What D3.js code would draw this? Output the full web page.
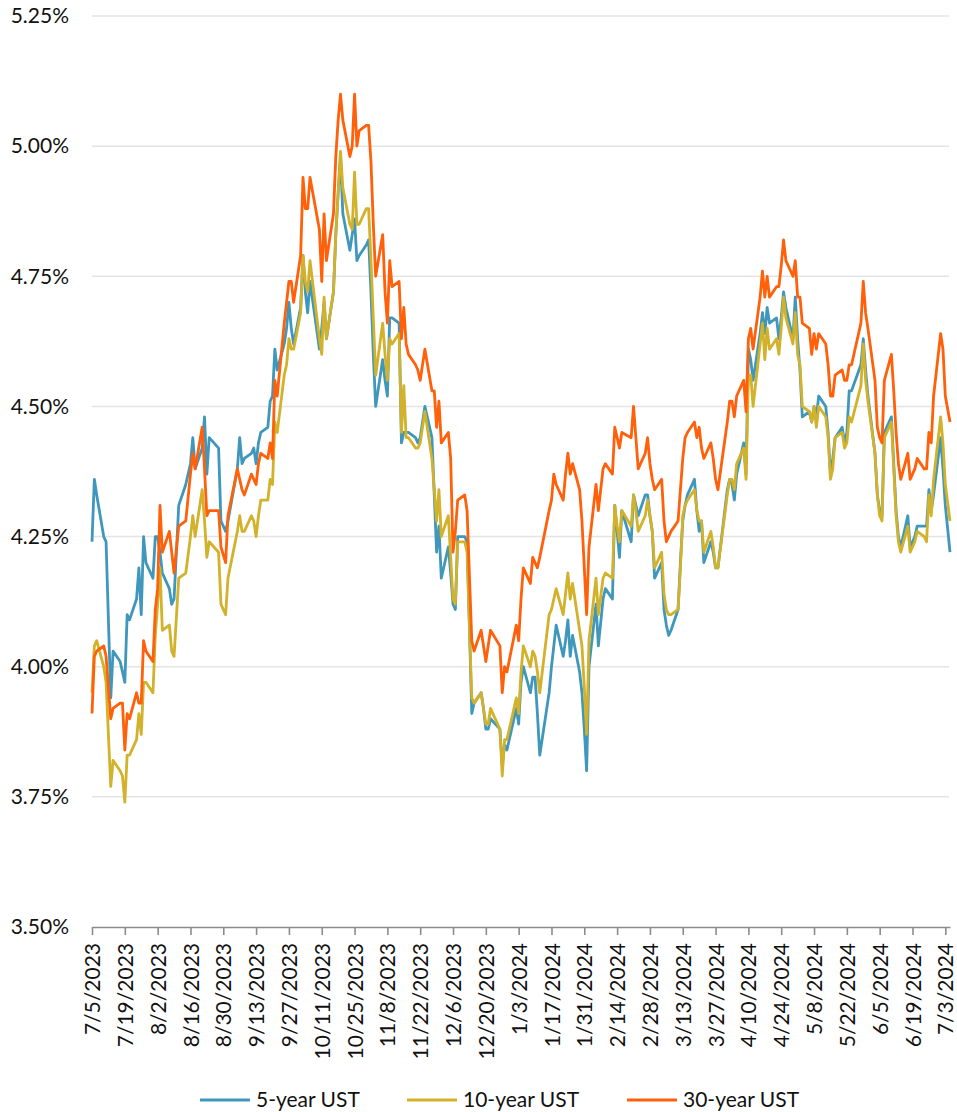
<!DOCTYPE html>
<html>
<head>
<meta charset="utf-8">
<script src="https://cdn.jsdelivr.net/npm/d3@7/dist/d3.min.js"></script>
<style>
  body { margin: 0; background: #fff; }
  svg { font-family: Lato, "Open Sans", sans-serif; }
</style>
</head>
<body>
<svg id="chart"></svg>
<script>
// trading days shown on the chart
var dates = [
  "7/5/2023","7/6/2023","7/7/2023","7/10/2023","7/11/2023","7/13/2023","7/14/2023","7/17/2023","7/18/2023","7/19/2023","7/20/2023","7/21/2023","7/24/2023","7/25/2023","7/26/2023","7/27/2023","7/28/2023","7/31/2023",
  "8/1/2023","8/2/2023","8/3/2023","8/4/2023","8/7/2023","8/8/2023","8/9/2023","8/11/2023","8/14/2023","8/16/2023","8/17/2023","8/18/2023","8/21/2023","8/22/2023","8/23/2023","8/24/2023","8/28/2023","8/29/2023","8/31/2023",
  "9/1/2023","9/5/2023","9/6/2023","9/7/2023","9/8/2023","9/11/2023","9/12/2023","9/13/2023","9/14/2023","9/15/2023","9/18/2023","9/19/2023","9/20/2023","9/21/2023","9/22/2023","9/25/2023","9/26/2023","9/27/2023","9/28/2023","9/29/2023",
  "10/2/2023","10/3/2023","10/4/2023","10/5/2023","10/6/2023","10/10/2023","10/11/2023","10/12/2023","10/13/2023","10/16/2023","10/17/2023","10/18/2023","10/19/2023","10/20/2023","10/23/2023","10/24/2023","10/25/2023","10/26/2023","10/27/2023","10/30/2023","10/31/2023",
  "11/1/2023","11/2/2023","11/3/2023","11/6/2023","11/7/2023","11/8/2023","11/9/2023","11/10/2023","11/13/2023","11/14/2023","11/15/2023","11/16/2023","11/17/2023","11/20/2023","11/21/2023","11/22/2023","11/24/2023","11/27/2023","11/28/2023","11/29/2023","11/30/2023",
  "12/1/2023","12/4/2023","12/5/2023","12/6/2023","12/7/2023","12/8/2023","12/11/2023","12/12/2023","12/14/2023","12/15/2023","12/18/2023","12/19/2023","12/20/2023","12/21/2023","12/22/2023","12/26/2023","12/27/2023","12/28/2023","12/29/2023",
  "1/2/2024","1/3/2024","1/4/2024","1/5/2024","1/8/2024","1/9/2024","1/10/2024","1/11/2024","1/12/2024","1/16/2024","1/17/2024","1/18/2024","1/19/2024","1/22/2024","1/23/2024","1/24/2024","1/25/2024","1/26/2024","1/29/2024","1/30/2024","1/31/2024",
  "2/1/2024","2/2/2024","2/5/2024","2/6/2024","2/8/2024","2/9/2024","2/12/2024","2/13/2024","2/14/2024","2/15/2024","2/16/2024","2/20/2024","2/21/2024","2/22/2024","2/23/2024","2/26/2024","2/27/2024","2/28/2024","2/29/2024",
  "3/1/2024","3/4/2024","3/5/2024","3/6/2024","3/7/2024","3/8/2024","3/11/2024","3/12/2024","3/13/2024","3/14/2024","3/15/2024","3/18/2024","3/19/2024","3/20/2024","3/21/2024","3/22/2024","3/25/2024","3/26/2024","3/27/2024","3/28/2024",
  "4/1/2024","4/2/2024","4/3/2024","4/4/2024","4/5/2024","4/8/2024","4/9/2024","4/10/2024","4/11/2024","4/12/2024","4/15/2024","4/16/2024","4/17/2024","4/18/2024","4/19/2024","4/22/2024","4/23/2024","4/24/2024","4/25/2024","4/26/2024","4/29/2024","4/30/2024",
  "5/1/2024","5/2/2024","5/3/2024","5/6/2024","5/7/2024","5/8/2024","5/9/2024","5/10/2024","5/13/2024","5/14/2024","5/15/2024","5/16/2024","5/17/2024","5/20/2024","5/21/2024","5/22/2024","5/23/2024","5/24/2024","5/28/2024","5/29/2024","5/30/2024","5/31/2024",
  "6/3/2024","6/4/2024","6/5/2024","6/6/2024","6/7/2024","6/10/2024","6/11/2024","6/12/2024","6/13/2024","6/14/2024","6/17/2024","6/18/2024","6/20/2024","6/21/2024","6/24/2024","6/25/2024","6/26/2024","6/27/2024","6/28/2024",
  "7/1/2024","7/2/2024","7/3/2024","7/5/2024"
];

// yields in percent
var ust5 = [
  4.24,4.36,4.33,4.25,4.24,3.94,4.03,4.01,3.99,3.97,4.10,4.09,4.13,4.19,4.10,4.25,4.20,4.17,
  4.25,4.25,4.22,4.18,4.15,4.12,4.13,4.31,4.35,4.39,4.44,4.38,4.42,4.48,4.37,4.44,4.42,4.28,4.26,
  4.28,4.38,4.44,4.39,4.40,4.41,4.42,4.39,4.43,4.45,4.46,4.51,4.52,4.61,4.57,4.62,4.65,4.70,4.65,4.62,
  4.69,4.79,4.72,4.68,4.74,4.61,4.65,4.70,4.63,4.72,4.83,4.91,4.98,4.87,4.80,4.83,4.86,4.78,4.79,4.81,4.82,
  4.72,4.60,4.50,4.59,4.55,4.52,4.67,4.67,4.66,4.43,4.45,4.45,4.45,4.44,4.43,4.44,4.50,4.44,4.33,4.22,4.27,
  4.17,4.23,4.18,4.12,4.11,4.25,4.25,4.24,3.91,3.93,3.95,3.92,3.88,3.88,3.90,3.88,3.81,3.85,3.84,
  3.92,3.89,3.97,4.00,3.95,3.98,3.98,3.91,3.83,3.95,4.00,4.04,4.08,4.02,4.05,4.09,4.02,4.06,3.99,3.95,3.88,
  3.80,4.00,4.12,4.04,4.13,4.15,4.13,4.31,4.26,4.21,4.30,4.24,4.33,4.31,4.29,4.33,4.33,4.29,4.26,
  4.17,4.20,4.11,4.08,4.06,4.07,4.11,4.20,4.28,4.31,4.33,4.36,4.30,4.26,4.28,4.20,4.24,4.22,4.19,4.19,
  4.34,4.36,4.35,4.32,4.37,4.43,4.37,4.61,4.59,4.55,4.64,4.68,4.64,4.69,4.66,4.67,4.63,4.67,4.72,4.69,4.63,4.71,
  4.63,4.57,4.48,4.49,4.47,4.50,4.48,4.52,4.50,4.45,4.37,4.40,4.44,4.46,4.43,4.45,4.53,4.53,4.58,4.63,4.57,4.52,
  4.41,4.33,4.30,4.29,4.45,4.48,4.39,4.30,4.25,4.23,4.29,4.23,4.25,4.27,4.27,4.27,4.34,4.30,4.33,
  4.44,4.38,4.31,4.22
];

var ust10 = [
  3.95,4.04,4.05,4.00,3.97,3.77,3.82,3.80,3.79,3.74,3.83,3.83,3.86,3.91,3.87,3.97,3.97,3.95,
  4.06,4.12,4.19,4.07,4.08,4.03,4.02,4.17,4.18,4.25,4.29,4.25,4.34,4.28,4.21,4.24,4.22,4.12,4.10,
  4.17,4.26,4.29,4.26,4.26,4.29,4.28,4.25,4.29,4.32,4.32,4.36,4.35,4.47,4.45,4.56,4.58,4.63,4.61,4.61,
  4.68,4.79,4.74,4.72,4.78,4.63,4.60,4.71,4.63,4.72,4.83,4.91,4.99,4.92,4.85,4.84,4.95,4.85,4.85,4.88,4.88,
  4.78,4.67,4.56,4.66,4.60,4.55,4.63,4.62,4.64,4.45,4.54,4.44,4.44,4.42,4.42,4.43,4.49,4.40,4.34,4.28,4.34,
  4.25,4.29,4.21,4.13,4.12,4.24,4.24,4.22,3.94,3.93,3.95,3.92,3.89,3.89,3.92,3.88,3.79,3.86,3.86,
  3.94,3.91,3.99,4.04,4.00,4.03,4.02,3.99,3.95,4.10,4.11,4.13,4.15,4.10,4.14,4.18,4.13,4.16,4.07,4.04,3.96,
  3.87,4.05,4.17,4.10,4.17,4.18,4.17,4.31,4.27,4.24,4.30,4.27,4.33,4.30,4.26,4.29,4.32,4.29,4.26,
  4.19,4.22,4.14,4.11,4.10,4.10,4.11,4.19,4.29,4.31,4.32,4.34,4.30,4.28,4.28,4.22,4.26,4.23,4.19,4.19,
  4.33,4.36,4.36,4.34,4.39,4.42,4.36,4.56,4.56,4.50,4.62,4.66,4.59,4.65,4.61,4.63,4.60,4.65,4.71,4.67,4.62,4.68,
  4.60,4.58,4.50,4.49,4.47,4.50,4.46,4.50,4.48,4.44,4.36,4.38,4.44,4.45,4.42,4.43,4.48,4.47,4.54,4.62,4.55,4.51,
  4.41,4.33,4.29,4.28,4.44,4.47,4.38,4.29,4.24,4.22,4.27,4.22,4.24,4.26,4.25,4.24,4.33,4.29,4.36,
  4.48,4.43,4.35,4.28
];

var ust30 = [
  3.91,4.02,4.03,4.04,4.02,3.90,3.92,3.93,3.93,3.84,3.91,3.90,3.95,3.93,3.93,4.05,4.03,4.01,
  4.11,4.15,4.31,4.22,4.26,4.22,4.18,4.27,4.28,4.37,4.41,4.38,4.46,4.38,4.29,4.30,4.30,4.23,4.20,
  4.29,4.38,4.36,4.34,4.33,4.37,4.36,4.35,4.39,4.41,4.40,4.43,4.40,4.55,4.52,4.66,4.70,4.74,4.74,4.70,
  4.79,4.94,4.88,4.88,4.94,4.84,4.74,4.87,4.78,4.87,4.98,5.05,5.10,5.05,4.98,5.00,5.10,5.00,5.03,5.04,5.04,
  4.97,4.85,4.75,4.83,4.72,4.66,4.78,4.73,4.74,4.63,4.69,4.62,4.60,4.58,4.57,4.55,4.61,4.53,4.53,4.46,4.51,
  4.43,4.45,4.40,4.22,4.26,4.32,4.33,4.30,4.05,4.03,4.07,4.04,4.01,4.04,4.07,4.04,3.95,4.00,3.99,
  4.08,4.05,4.13,4.19,4.16,4.21,4.20,4.19,4.21,4.30,4.32,4.37,4.35,4.32,4.37,4.41,4.37,4.39,4.34,4.28,4.19,
  4.10,4.23,4.35,4.30,4.38,4.39,4.37,4.46,4.44,4.42,4.45,4.44,4.50,4.44,4.38,4.41,4.44,4.39,4.36,
  4.34,4.36,4.28,4.24,4.25,4.26,4.28,4.34,4.40,4.44,4.45,4.47,4.44,4.46,4.42,4.40,4.43,4.40,4.36,4.34,
  4.47,4.51,4.51,4.48,4.52,4.55,4.49,4.63,4.65,4.61,4.71,4.76,4.71,4.75,4.71,4.73,4.73,4.77,4.82,4.78,4.75,4.78,
  4.71,4.71,4.66,4.65,4.60,4.64,4.61,4.64,4.62,4.58,4.52,4.52,4.56,4.57,4.55,4.55,4.58,4.58,4.66,4.74,4.68,4.65,
  4.55,4.46,4.44,4.43,4.55,4.60,4.53,4.45,4.39,4.36,4.41,4.36,4.38,4.40,4.38,4.38,4.45,4.43,4.52,
  4.64,4.61,4.52,4.47
];

var seriesNames = ["5-year UST", "10-year UST", "30-year UST"];
var seriesColors = ["#3f97bb", "#d2b12b", "#ff6009"];

var xTickLabels = ["7/5/2023","7/19/2023","8/2/2023","8/16/2023","8/30/2023","9/13/2023","9/27/2023",
  "10/11/2023","10/25/2023","11/8/2023","11/22/2023","12/6/2023","12/20/2023","1/3/2024","1/17/2024",
  "1/31/2024","2/14/2024","2/28/2024","3/13/2024","3/27/2024","4/10/2024","4/24/2024","5/8/2024",
  "5/22/2024","6/5/2024","6/19/2024","7/3/2024"];
var yTicks = [3.50, 3.75, 4.00, 4.25, 4.50, 4.75, 5.00, 5.25];

var margin = {top: 16, right: 7, bottom: 185, left: 92},
    width = 957 - margin.left - margin.right,
    height = 1112 - margin.top - margin.bottom;

var svg = d3.select("#chart")
    .attr("width", width + margin.left + margin.right)
    .attr("height", height + margin.top + margin.bottom)
    .append("g")
    .attr("transform", "translate(" + margin.left + "," + margin.top + ")");

var parseDate = d3.timeParse("%m/%d/%Y");
var fmtDate = d3.timeFormat("%-m/%-d/%Y");

var x = d3.scaleTime()
    .domain([parseDate("7/5/2023"), parseDate("7/5/2024")])
    .range([0, width]);

var y = d3.scaleLinear()
    .domain([3.5, 5.25])
    .range([height, 0]);

// horizontal gridlines
svg.append("g")
    .selectAll("line")
    .data(yTicks.slice(1))
    .enter()
    .append("line")
    .attr("x1", 0)
    .attr("x2", width - 1)
    .attr("y1", function(d) { return y(d); })
    .attr("y2", function(d) { return y(d); })
    .attr("stroke", "#e4e4e4")
    .attr("stroke-width", 1.5);

// Y axis labels
var yAxis = svg.append("g")
    .call(d3.axisLeft(y).tickValues(yTicks).tickSize(0).tickPadding(23)
        .tickFormat(function(d) { return d.toFixed(2) + "%"; }));
yAxis.select(".domain").remove();
yAxis.selectAll("text")
    .attr("font-size", 21)
    .attr("font-family", "Lato, 'Open Sans', sans-serif")
    .attr("fill", "#111");

// X axis
var xAxis = svg.append("g")
    .attr("transform", "translate(0," + height + ")")
    .call(d3.axisBottom(x)
        .tickValues(xTickLabels.map(parseDate))
        .tickFormat(fmtDate)
        .tickSize(8)
        .tickSizeOuter(0));
xAxis.select(".domain").attr("stroke", "#8c8c8c").attr("stroke-width", 1.6);
xAxis.selectAll(".tick line").attr("stroke", "#8c8c8c").attr("stroke-width", 1.6);
xAxis.selectAll("text")
    .attr("transform", "rotate(-90)")
    .attr("text-anchor", "end")
    .attr("x", -16)
    .attr("y", 0)
    .attr("dy", "0.36em")
    .attr("font-size", 21)
    .attr("font-family", "Lato, 'Open Sans', sans-serif")
    .attr("fill", "#111");

// lines
var parsedDates = dates.map(parseDate);
var allSeries = [ust5, ust10, ust30];

var line = d3.line()
    .x(function(d) { return x(d.date); })
    .y(function(d) { return y(d.value); });

allSeries.forEach(function(vals, i) {
    var pts = vals.map(function(v, j) { return {date: parsedDates[j], value: v}; });
    svg.append("path")
        .datum(pts)
        .attr("fill", "none")
        .attr("stroke", seriesColors[i])
        .attr("stroke-width", 2.8)
        .attr("stroke-linejoin", "round")
        .attr("d", line);
});

// legend
var legendX = [108, 315, 535];
var legend = svg.append("g")
    .attr("transform", "translate(0," + (1100 - margin.top) + ")");

seriesNames.forEach(function(name, i) {
    var g = legend.append("g").attr("transform", "translate(" + legendX[i] + ",0)");
    g.append("line")
        .attr("x1", 0).attr("x2", 50)
        .attr("y1", 0).attr("y2", 0)
        .attr("stroke", seriesColors[i])
        .attr("stroke-width", 3);
    g.append("text")
        .attr("x", 56)
        .attr("y", 0)
        .attr("dy", "0.35em")
        .attr("font-size", 21)
        .attr("fill", "#111")
        .text(name);
});
</script>
</body>
</html>
